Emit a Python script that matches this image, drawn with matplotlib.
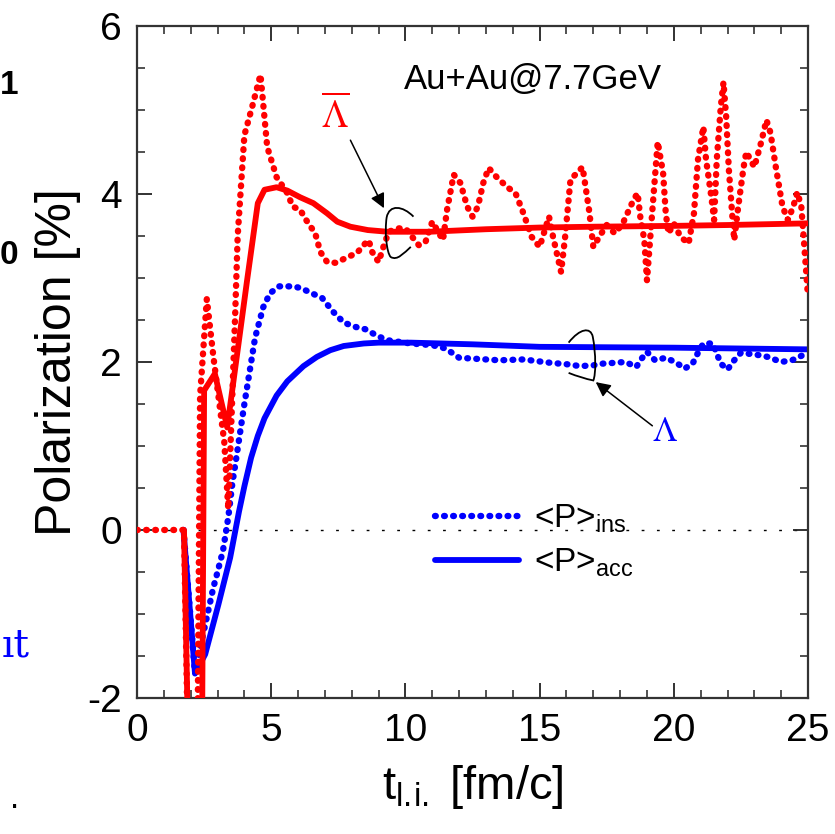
import numpy as np
import matplotlib
matplotlib.use('Agg')
import matplotlib.pyplot as plt
from matplotlib.path import Path
from matplotlib.patches import PathPatch
from matplotlib.ticker import MultipleLocator

plt.rcParams['font.family'] = 'Liberation Sans'
plt.rcParams['mathtext.fontset'] = 'custom'
plt.rcParams['mathtext.rm'] = 'Liberation Sans'
plt.rcParams['mathtext.it'] = 'Liberation Sans:italic'
plt.rcParams['axes.unicode_minus'] = False

# Anti-Lambda, instantaneous polarization (dotted red)
t_alam_ins = [0.0, 0.5, 1.0, 1.5, 1.75, 2.15, 2.35, 2.6, 2.85, 3.25, 3.4, 3.65,
              3.75, 4.0, 4.3, 4.6, 4.85, 5.2, 5.6, 5.8, 6.08, 6.3, 6.64, 6.83,
              7.08, 7.4, 7.8, 8.2, 8.5, 8.63, 8.76, 9.0, 9.2, 9.38, 9.7, 10.0,
              10.25, 10.5, 10.75, 11.0, 11.4, 11.55, 11.8, 12.05, 12.3, 12.5,
              12.7, 12.9, 13.1, 13.4, 13.8, 14.1, 14.35, 14.55, 14.7, 15.0,
              15.35, 15.5, 15.8, 15.95, 16.15, 16.6, 16.85, 17.0, 17.3, 17.5,
              17.8, 18.1, 18.5, 18.65, 18.75, 18.9, 19.0, 19.25, 19.4, 19.6,
              19.7, 19.8, 20.0, 20.25, 20.55, 20.75, 20.9, 21.1, 21.2, 21.4,
              21.5, 21.6, 21.75, 21.85, 21.95, 22.05, 22.2, 22.25, 22.4, 22.6,
              22.7, 23.0, 23.25, 23.45, 23.6, 23.8, 24.05, 24.25, 24.45, 24.6,
              24.75, 24.9, 25.0]
p_alam_ins = [0.0, 0.0, 0.0, 0.0, 0.0, -7.0, 1.6, 2.75, 2.05, 1.05, 0.25, 2.5,
              3.5, 4.7, 5.05, 5.42, 4.56, 4.2, 4.01, 3.85, 3.81, 3.69, 3.53, 3.31,
              3.19, 3.18, 3.24, 3.3, 3.41, 3.45, 3.31, 3.19, 3.39, 3.55, 3.59, 3.59,
              3.49, 3.39, 3.43, 3.67, 3.45, 3.81, 4.23, 4.13, 3.85, 3.73,
              3.85, 4.13, 4.31, 4.2, 4.08, 4.01, 3.81, 3.63, 3.49, 3.37,
              3.73, 3.49, 3.07, 3.49, 4.17, 4.32, 3.79, 3.37, 3.53, 3.63,
              3.53, 3.65, 3.93, 4.01, 3.73, 3.45, 2.97, 4.01, 4.62, 4.25,
              3.77, 3.53, 3.65, 3.49, 3.41, 3.77, 4.41, 4.8, 4.41, 3.96,
              3.69, 4.41, 5.04, 5.33, 4.92, 4.29, 3.65, 3.45, 3.85, 4.32,
              4.5, 4.32, 4.61, 4.88, 4.73, 4.32, 3.85, 3.69, 3.85, 4.02,
              3.85, 3.21, 2.77]

# Anti-Lambda, accumulated polarization (solid red)
t_alam_acc = [1.75, 2.3, 2.5, 2.9, 3.36, 4.1, 4.5, 4.75, 5.2, 5.6, 6.08, 6.57,
              7.08, 7.46, 7.95, 8.6, 9.33, 10.9, 13.0, 15.0, 17.0, 20.0, 22.0, 25.0]
p_alam_acc = [0.0, -9.0, 1.66, 1.86, 1.22, 2.97, 3.89, 4.05, 4.08, 4.04, 3.96, 3.89,
              3.77, 3.67, 3.61, 3.57, 3.55, 3.55, 3.58, 3.6, 3.61, 3.62, 3.63, 3.65]

# Lambda, instantaneous polarization (dotted blue)
t_lam_ins = [1.73, 2.16, 2.43, 2.84, 3.0, 3.2, 3.4, 3.55, 3.7, 4.0, 4.4, 4.7,
             4.96, 5.3, 5.8, 6.1, 6.5, 6.9, 7.3, 7.7, 8.1, 8.5, 8.9, 9.3, 10.2,
             11.0, 11.5, 12.0, 13.5, 14.4, 15.4, 16.1, 16.5, 17.0, 17.35, 17.8,
             18.2, 18.6, 18.8, 19.0, 19.3, 19.7, 20.1, 20.4, 20.7, 20.9, 21.1,
             21.45, 21.6, 21.75, 22.0, 22.25, 22.5, 23.2, 23.5, 24.0, 24.4,
             24.8, 25.0]
p_lam_ins = [0.0, -1.71, -1.29, -0.69, -0.5, -0.25, 0.15, 0.55, 0.86, 1.5, 2.29, 2.65,
             2.82, 2.9, 2.9, 2.88, 2.82, 2.76, 2.6, 2.47, 2.42, 2.39, 2.32, 2.26, 2.22,
             2.2, 2.16, 2.05, 2.02, 2.03, 1.99, 1.97, 1.95, 1.96, 1.98, 1.99,
             2.0, 1.94, 2.04, 2.12, 2.02, 2.05, 1.99, 1.92, 1.98, 2.11, 2.22,
             2.22, 2.10, 1.98, 1.91, 2.02, 2.11, 2.08, 2.06, 2.0, 2.02,
             2.08, 2.05]

# Lambda, accumulated polarization (solid blue)
t_lam_acc = [1.73, 2.16, 2.54, 3.03, 3.47, 3.8, 4.0, 4.25, 4.5, 4.75, 5.2, 5.6,
             6.2, 6.7, 7.2, 7.7, 8.45, 9.0, 10.2, 12.5, 15.0, 20.0, 25.0]
p_lam_acc = [0.0, -1.71, -1.48, -0.89, -0.33, 0.22, 0.52, 0.86, 1.12, 1.33, 1.6, 1.77,
             1.95, 2.06, 2.14, 2.19, 2.22, 2.23, 2.23, 2.21, 2.18, 2.17, 2.15]

legend_labels = ['<P>$_{\\mathrm{ins}}$', '<P>$_{\\mathrm{acc}}$']

fig = plt.figure(figsize=(8.35, 8.34), dpi=100)
ax = fig.add_axes([0.1641, 0.1631, 0.8036, 0.8058])

dot_style = dict(lw=4.6, linestyle=(0, (0.12, 1.3)), dash_capstyle='round')

ax.axhline(0, color='black', lw=1.0, linestyle=(0, (2, 9)), zorder=1)

h_ins, = ax.plot(t_lam_ins, p_lam_ins, color='#0000ff', zorder=2, **dot_style)
h_acc, = ax.plot(t_lam_acc, p_lam_acc, color='#0000ff', lw=4.2, zorder=2,
                 solid_capstyle='round', solid_joinstyle='round')
ax.plot(t_alam_ins, p_alam_ins, color='#ff0000', zorder=3, **dot_style)
ax.plot(t_alam_acc, p_alam_acc, color='#ff0000', lw=4.2, zorder=3,
        solid_capstyle='round', solid_joinstyle='round')

ax.set_xlim(0, 25)
ax.set_ylim(-2, 6)
ax.xaxis.set_major_locator(MultipleLocator(5))
ax.xaxis.set_minor_locator(MultipleLocator(1))
ax.yaxis.set_major_locator(MultipleLocator(2))
ax.yaxis.set_minor_locator(MultipleLocator(0.5))
ax.tick_params(which='both', direction='in', top=True, right=True,
               colors='#222222', labelcolor='black')
ax.tick_params(which='major', length=11, width=1.3, labelsize=28, pad=11)
ax.tick_params(which='minor', length=6, width=1.1)
for s in ax.spines.values():
    s.set_linewidth(1.6)
    s.set_color('#333333')

ax.set_xlabel('t$_{\\mathrm{l.\\!i.}}$ [fm/c]', fontsize=34, labelpad=10)
ax.set_ylabel('Polarization [%]', fontsize=36, labelpad=4)

ax.text(9.93, 5.36, 'Au+Au@7.7GeV', fontsize=25, va='center', ha='left')

# anti-Lambda label, arrow and loop
ax.text(7.39, 4.93, r'$\overline{\Lambda}$', color='#ff0000', fontsize=27,
        math_fontfamily='stix', ha='center', va='center')
ax.annotate('', xy=(9.2, 3.83), xytext=(7.95, 4.64),
            arrowprops=dict(arrowstyle='-|>', color='black', lw=1.1,
                            mutation_scale=22, shrinkA=0, shrinkB=0))
loop_a = Path([(10.3, 3.73), (9.9, 3.86), (9.4, 3.88), (9.3, 3.72),
               (9.22, 3.55), (9.3, 3.3), (9.45, 3.25),
               (9.7, 3.2), (9.95, 3.3), (10.2, 3.37)],
              [Path.MOVETO, Path.CURVE4, Path.CURVE4, Path.CURVE4,
               Path.CURVE4, Path.CURVE4, Path.CURVE4,
               Path.CURVE4, Path.CURVE4, Path.CURVE4])
ax.add_patch(PathPatch(loop_a, fill=False, lw=1.3, color='black', zorder=4))

# Lambda label, arrow and loop
ax.text(19.66, 1.17, r'$\Lambda$', color='#0000ff', fontsize=25,
        math_fontfamily='stix', ha='center', va='center')
ax.annotate('', xy=(17.09, 1.76), xytext=(19.2, 1.24),
            arrowprops=dict(arrowstyle='-|>', color='black', lw=1.1,
                            mutation_scale=22, shrinkA=0, shrinkB=0))
loop_b = Path([(16.08, 2.23), (16.5, 2.4), (16.9, 2.42), (16.98, 2.3),
               (17.1, 2.1), (17.1, 1.85), (17.0, 1.78),
               (16.7, 1.8), (16.4, 1.83), (16.08, 1.87)],
              [Path.MOVETO, Path.CURVE4, Path.CURVE4, Path.CURVE4,
               Path.CURVE4, Path.CURVE4, Path.CURVE4,
               Path.CURVE4, Path.CURVE4, Path.CURVE4])
ax.add_patch(PathPatch(loop_b, fill=False, lw=1.3, color='black', zorder=4))

ax.legend([h_ins, h_acc], legend_labels, loc='upper left',
          bbox_to_anchor=(0.40, 0.335), frameon=False, fontsize=24,
          handlelength=2.5, handletextpad=0.45, labelspacing=0.35)

# fragments of the neighbouring panel, cut by the crop
fig.text(0.0, 1 - 85 / 834, '1', fontsize=24, fontweight='bold', va='center')
fig.text(0.0, 1 - 255 / 834, '0', fontsize=24, fontweight='bold', va='center')
fig.text(0.002, 1 - 646 / 834, '\u0131t', color='#0000ff', fontsize=28,
         family='DejaVu Serif', ha='left', va='center')
fig.text(0.012, 1 - 800 / 834, '.', fontsize=24, va='center')

fig.savefig('out.png', dpi=100)
